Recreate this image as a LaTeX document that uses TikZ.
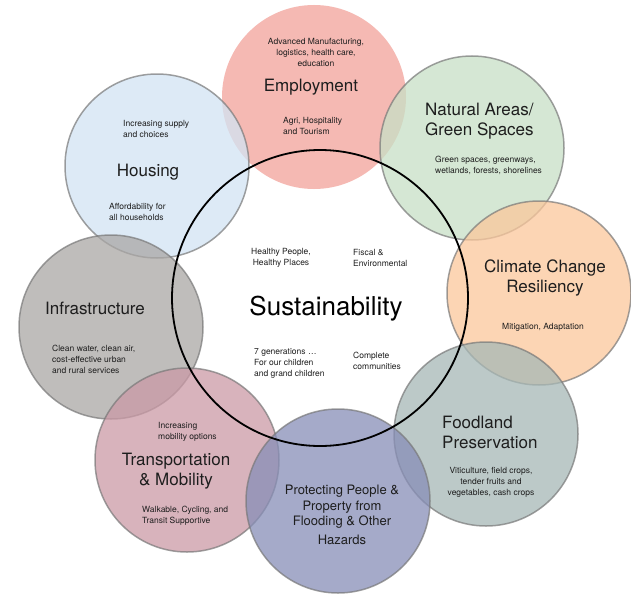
\documentclass[tikz,border=0pt]{standalone}
\usepackage{fontspec}
\setmainfont{TeX Gyre Heros}
\definecolor{cemp}{RGB}{242,162,154}
\definecolor{chou}{RGB}{210,228,244}
\definecolor{cnat}{RGB}{199,224,198}
\definecolor{ccli}{RGB}{251,199,155}
\definecolor{cinf}{RGB}{170,167,165}
\definecolor{cfoo}{RGB}{166,184,182}
\definecolor{ctra}{RGB}{203,154,166}
\definecolor{cpro}{RGB}{135,142,183}
\definecolor{cring}{RGB}{120,120,120}
\definecolor{ctxt}{RGB}{30,30,30}
\tikzset{
  bubble/.style={circle, draw=cring, draw opacity=0.7, line width=1.5pt,
    fill opacity=0.75, minimum size=184pt, inner sep=0pt},
  bigtxt/.style={font=\fontsize{17}{20}\selectfont, text=ctxt, align=center, inner sep=0pt},
  smalltxt/.style={font=\fontsize{8.5}{11}\selectfont, text=ctxt, inner sep=0pt},
}
\begin{document}
\begin{tikzpicture}[x=1pt,y=-1pt]
\fill[white] (0,0) rectangle (631,594);
\useasboundingbox (0,0) rectangle (631,594);
% bubbles
\node[bubble, draw=none, fill=cemp] (emp) at (314,97) {};
\node[bubble, fill=chou] (hou) at (157,166) {};
\node[bubble, fill=cnat] (nat) at (472,148) {};
\node[bubble, fill=ccli] (cli) at (539,293) {};
\node[bubble, fill=cinf] (inf) at (111,327) {};
\node[bubble, fill=cfoo] (foo) at (486,434) {};
\node[bubble, fill=ctra] (tra) at (187,460) {};
\node[bubble, fill=cpro] (pro) at (338,501) {};
% central ring
\node[circle, draw=black, line width=1.8pt, minimum size=296pt, inner sep=0pt] (sus) at (320,298) {};
% Employment
\node[smalltxt, align=center] (empa) at (316,52) {Advanced Manufacturing,\\logistics, health care,\\education};
\node[bigtxt] (empt) at (311,87) {Employment};
\node[smalltxt, align=left, anchor=west] (empb) at (283,126) {Agri, Hospitality\\and Tourism};
% Housing
\node[smalltxt, align=left, anchor=west] (houa) at (123,129) {Increasing supply\\and choices};
\node[bigtxt] (hout) at (148,172) {Housing};
\node[smalltxt, align=left, anchor=west] (houb) at (109,212) {Affordability for\\all households};
% Natural
\node[bigtxt, align=left, anchor=west] (natt) at (425,121) {Natural Areas/\\Green Spaces};
\node[smalltxt, align=left, anchor=west] (nata) at (435,165) {Green spaces, greenways,\\wetlands, forests, shorelines};
% Climate
\node[bigtxt] (clit) at (545,278) {Climate Change\\Resiliency};
\node[smalltxt, align=center] (clia) at (543,327) {Mitigation, Adaptation};
% Infrastructure
\node[bigtxt] (inft) at (95,308) {Infrastructure};
\node[smalltxt, align=left, anchor=west] (infa) at (52,359) {Clean water, clean air,\\cost-effective urban\\and rural services};
% Foodland
\node[bigtxt, align=left, anchor=west] (foot) at (442,432) {Foodland\\Preservation};
\node[smalltxt, align=center] (fooa) at (491,482) {Viticulture, field crops,\\tender fruits and\\vegetables, cash crops};
% Transportation
\node[smalltxt, align=left, anchor=west] (traa) at (158,432) {Increasing\\mobility options};
\node[bigtxt] (trat) at (176,471) {Transportation\\\& Mobility};
\node[smalltxt, align=left, anchor=west] (trab) at (142,516) {Walkable, Cycling, and\\Transit Supportive};
% Protecting
\node[font=\fontsize{13}{15.5}\selectfont, text=ctxt, align=center, inner sep=0pt] (prot) at (342,515) {Protecting People \&\\Property from\\Flooding \& Other\\[3pt]Hazards};
% Sustainability
\node[smalltxt, align=center] (susa) at (281,258) {Healthy People,\\Healthy Places};
\node[smalltxt, align=left, anchor=west] (susb) at (353,258) {Fiscal \&\\Environmental};
\node[font=\fontsize{26}{30}\selectfont, text=black, inner sep=0pt] (sust) at (326,309) {Sustainability};
\node[smalltxt, align=left, anchor=west] (susc) at (254,363) {7 generations \dots\\For our children\\and grand children};
\node[smalltxt, align=left, anchor=west] (susd) at (353,361) {Complete\\communities};
\end{tikzpicture}
\end{document}
